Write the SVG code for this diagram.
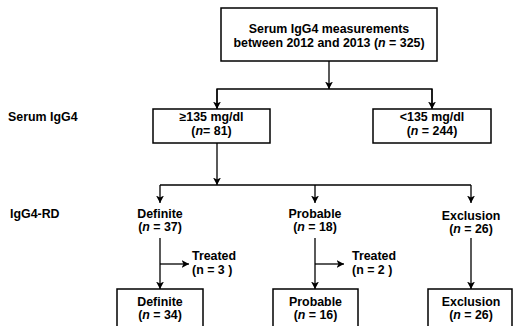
<svg xmlns="http://www.w3.org/2000/svg" width="513" height="326" viewBox="0 0 513 326">
<defs>
<style>
text{font-family:"Liberation Sans",Arial,sans-serif;font-weight:bold;font-size:12.4px;fill:#000}
.c{text-anchor:middle}
.box{fill:#fff;stroke:#000;stroke-width:1.5}
.ln{fill:none;stroke:#000;stroke-width:1.3}
.ar{fill:none;stroke:#000;stroke-width:1.3;marker-end:url(#ah)}
</style>
<marker id="ah" markerUnits="userSpaceOnUse" markerWidth="9" markerHeight="9" refX="7.5" refY="4" orient="auto">
<path d="M0,0 L7.5,4 L0,8 L2,4 z" fill="#000"/>
</marker>
</defs>
<rect width="513" height="326" fill="#fff"/>
<g id="labels">
<text x="8" y="121">Serum IgG4</text>
<text x="10" y="218">IgG4-RD</text>
</g>
<g id="connectors">
<line class="ar" x1="329" y1="61" x2="329" y2="89"/>
<polyline class="ln" points="217,108 217,89 432,89 432,108"/>
<line class="ar" x1="217" y1="89" x2="217" y2="109"/>
<line class="ar" x1="432" y1="89" x2="432" y2="109"/>
<line class="ar" x1="217" y1="143" x2="217" y2="185"/>
<line class="ln" x1="160" y1="185" x2="471" y2="185"/>
<line class="ar" x1="160" y1="185" x2="160" y2="203"/>
<line class="ar" x1="315" y1="185" x2="315" y2="203"/>
<line class="ar" x1="471" y1="185" x2="471" y2="203"/>
<line class="ar" x1="160" y1="238" x2="160" y2="289"/>
<line class="ar" x1="160" y1="264" x2="189" y2="264"/>
<line class="ar" x1="315" y1="238" x2="315" y2="289"/>
<line class="ar" x1="315" y1="264" x2="344" y2="264"/>
<line class="ar" x1="471" y1="238" x2="471" y2="289"/>
</g>
<g id="n-total">
<rect class="box" x="221" y="8" width="216" height="53"/>
<text class="c" x="329" y="33">Serum IgG4 measurements</text>
<text class="c" x="329" y="47">between 2012 and 2013 (<tspan font-style="italic">n</tspan> = 325)</text>
</g>
<g id="n-high">
<rect class="box" x="153" y="109" width="117" height="34"/>
<text class="c" x="211.5" y="121">≥135 mg/dl</text>
<text class="c" x="211.5" y="135">(<tspan font-style="italic">n</tspan>= 81)</text>
</g>
<g id="n-low">
<rect class="box" x="373" y="109" width="118" height="34"/>
<text class="c" x="432" y="121">&lt;135 mg/dl</text>
<text class="c" x="432" y="135">(<tspan font-style="italic">n</tspan> = 244)</text>
</g>
<g id="n-definite">
<text class="c" x="160" y="218">Definite</text>
<text class="c" x="160" y="231">(<tspan font-style="italic">n</tspan> = 37)</text>
</g>
<g id="n-probable">
<text class="c" x="315" y="218">Probable</text>
<text class="c" x="315" y="231">(<tspan font-style="italic">n</tspan> = 18)</text>
</g>
<g id="n-exclusion">
<text class="c" x="471" y="220">Exclusion</text>
<text class="c" x="471" y="233">(<tspan font-style="italic">n</tspan> = 26)</text>
</g>
<g id="n-treated1">
<text x="192" y="260">Treated</text>
<text x="192" y="274">(n = 3 )</text>
</g>
<g id="n-treated2">
<text x="352" y="260">Treated</text>
<text x="352" y="274">(n = 2 )</text>
</g>
<g id="n-definite2">
<rect class="box" x="117" y="289" width="86" height="45"/>
<text class="c" x="160" y="306">Definite</text>
<text class="c" x="160" y="319">(<tspan font-style="italic">n</tspan> = 34)</text>
</g>
<g id="n-probable2">
<rect class="box" x="273" y="289" width="85" height="45"/>
<text class="c" x="315.5" y="306">Probable</text>
<text class="c" x="315.5" y="319">(<tspan font-style="italic">n</tspan> = 16)</text>
</g>
<g id="n-exclusion2">
<rect class="box" x="428" y="289" width="84" height="45"/>
<text class="c" x="471" y="306">Exclusion</text>
<text class="c" x="471" y="319">(<tspan font-style="italic">n</tspan> = 26)</text>
</g>
</svg>
